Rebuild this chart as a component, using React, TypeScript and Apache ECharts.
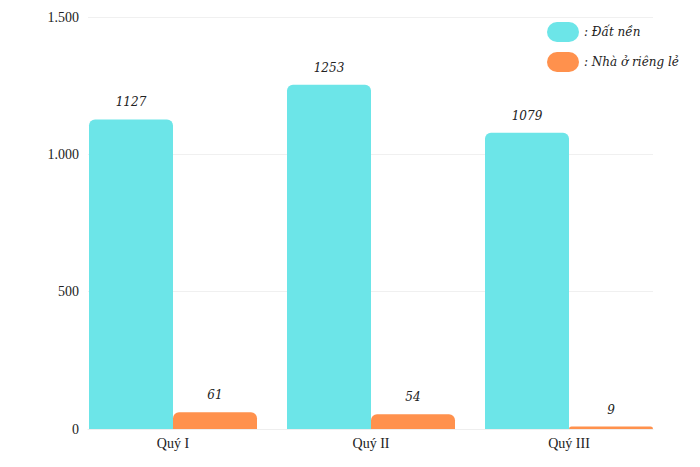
import React, { useEffect, useRef } from "react";
import * as echarts from "echarts";

const categories = ["Quý I", "Quý II", "Quý III"];
const datNen = [1127, 1253, 1079];
const nhaORiengLe = [61, 54, 9];
const seriesNames = ["Đất nền", "Nhà ở riêng lẻ"];

const FONT = "'Liberation Serif', 'DejaVu Serif', serif";
const IFONT = "'DejaVu Serif', serif";

export default function App() {
  const ref = useRef<HTMLDivElement>(null);
  useEffect(() => {
    document.body.style.margin = "0";
    const chart = echarts.init(ref.current!, null, { renderer: "svg" });
    const pill = "path://M10,0 H22 A10,10 0 0 1 22,20 H10 A10,10 0 0 1 10,0 Z";
    const valueLabel = {
      show: true,
      position: "top",
      distance: 11,
      fontFamily: IFONT,
      fontStyle: "italic",
      fontSize: 12,
      color: "#222",
    };
    chart.setOption({
      animation: false,
      backgroundColor: "#ffffff",
      textStyle: { fontFamily: FONT },
      legend: {
        orient: "vertical",
        left: 547,
        top: 22,
        padding: 0,
        itemWidth: 32,
        itemHeight: 20,
        itemGap: 10,
        itemTextGap: 5,
        data: [
          { name: seriesNames[0], icon: pill },
          { name: seriesNames[1], icon: pill },
        ],
        formatter: (n: string) => ": " + n,
        textStyle: { fontFamily: IFONT, fontStyle: "italic", fontSize: 12, color: "#222" },
      },
      grid: [
        { left: 88, right: 47, top: 17, bottom: 38 },
        { left: 74, right: 32, top: 17, bottom: 38 },
      ],
      xAxis: [
        {
          type: "category",
          gridIndex: 0,
          data: categories,
          axisLine: { show: true, lineStyle: { color: "#eeeeee" } },
          axisTick: { show: false },
          axisLabel: { show: false },
        },
        {
          type: "category",
          gridIndex: 1,
          data: categories,
          axisLine: { show: false },
          axisTick: { show: false },
          axisLabel: { fontFamily: FONT, fontSize: 14, color: "#222", margin: 7 },
        },
      ],
      yAxis: [
        {
          type: "value",
          gridIndex: 0,
          min: 0,
          max: 1500,
          interval: 500,
          axisLine: { show: false },
          axisTick: { show: false },
          splitLine: { lineStyle: { color: "#f0f0f0" } },
          axisLabel: {
            fontFamily: FONT,
            fontSize: 14,
            color: "#222",
            margin: 9,
            formatter: (v: number) => String(v).replace(/\B(?=(\d{3})+(?!\d))/g, "."),
          },
        },
        {
          type: "value",
          gridIndex: 1,
          min: 0,
          max: 1500,
          interval: 500,
          show: false,
          splitLine: { show: false },
        },
      ],
      series: [
        {
          name: seriesNames[0],
          type: "bar",
          xAxisIndex: 1,
          yAxisIndex: 1,
          data: datNen,
          barWidth: 84,
          barGap: "0%",
          itemStyle: { color: "#6ce5e8", borderRadius: [6, 6, 0, 0] },
          label: valueLabel,
        },
        {
          name: seriesNames[1],
          type: "bar",
          xAxisIndex: 1,
          yAxisIndex: 1,
          data: nhaORiengLe,
          barWidth: 84,
          barGap: "0%",
          itemStyle: { color: "#ff914d", borderRadius: [6, 6, 0, 0] },
          label: valueLabel,
        },
      ],
    });
    return () => chart.dispose();
  }, []);
  return <div ref={ref} style={{ width: 700, height: 467 }} />;
}
